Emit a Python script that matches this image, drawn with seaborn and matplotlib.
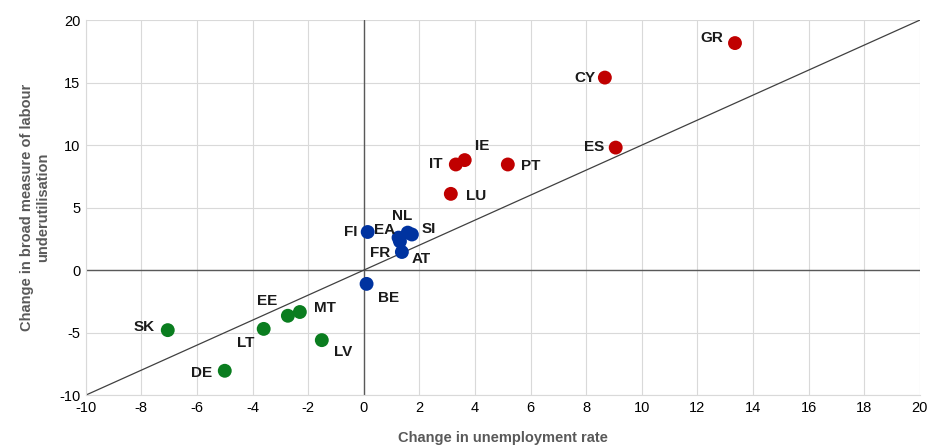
import matplotlib.pyplot as plt
import seaborn as sns
import pandas as pd

sns.set_style("white")
plt.rcParams["font.family"] = ["Liberation Sans", "DejaVu Sans"]
plt.rcParams["axes.unicode_minus"] = False

countries = ["GR", "CY", "ES", "IE", "IT", "PT", "LU",
             "FI", "NL", "SI", "EA", "FR", "AT", "BE",
             "SK", "DE", "LT", "EE", "MT", "LV"]
unemp = [13.35, 8.67, 9.06, 3.63, 3.31, 5.18, 3.13,
         0.14, 1.58, 1.73, 1.25, 1.3, 1.37, 0.1,
         -7.05, -5.0, -3.6, -2.73, -2.3, -1.51]
underutil = [18.16, 15.4, 9.8, 8.8, 8.45, 8.45, 6.1,
             3.05, 3.0, 2.85, 2.6, 2.3, 1.45, -1.1,
             -4.8, -8.05, -4.7, -3.65, -3.35, -5.6]
group = ["high"] * 7 + ["mid"] * 7 + ["low"] * 6

palette = {"high": "#c00000", "mid": "#0033a0", "low": "#0a7d1f"}

# label offsets in pixels (dx, dy)
offsets = {"GR": (-23, 5), "CY": (-20, 0), "ES": (-22, 1), "IE": (17, 14),
           "IT": (-20, 0), "PT": (23, -2), "LU": (25, -2), "FI": (-17, 0),
           "EA": (-14, 8), "NL": (-6, 17), "SI": (17, 5), "FR": (-20, -12),
           "AT": (19, -7), "BE": (22, -14), "SK": (-24, 3), "DE": (-23, -2),
           "LT": (-18, -14), "EE": (-21, 15), "MT": (25, 4), "LV": (21, -12)}

df = pd.DataFrame({"country": countries, "unemp": unemp,
                   "underutil": underutil, "group": group})

fig = plt.figure(figsize=(9.32, 4.46), dpi=100)
ax = fig.add_axes([0.092, 0.114, 0.895, 0.841])

ax.set_xlim(-10, 20)
ax.set_ylim(-10, 20)
ax.set_xticks(range(-10, 21, 2))
ax.set_yticks(range(-10, 21, 5))
ax.grid(True, color="#d9d9d9", linewidth=0.8)
ax.set_axisbelow(True)

ax.axhline(0, color="#595959", linewidth=1, zorder=1)
ax.axvline(0, color="#595959", linewidth=1, zorder=1)
ax.plot([-10, 20], [-10, 20], color="#404040", linewidth=0.9, zorder=1)

sns.scatterplot(data=df, x="unemp", y="underutil", hue="group",
                palette=palette, s=100, edgecolor="none", legend=False,
                ax=ax, zorder=3)

for c, x, y in zip(countries, unemp, underutil):
    dx, dy = offsets[c]
    ax.annotate(c, (x, y), xytext=(dx, dy), textcoords="offset pixels",
                ha="center", va="center", fontsize=11, fontweight="bold",
                color="#1a1a1a")

for s in ["top", "right"]:
    ax.spines[s].set_visible(False)
for s in ["left", "bottom"]:
    ax.spines[s].set_color("#d9d9d9")

ax.tick_params(labelsize=10.5, colors="black", length=0, pad=4)
ax.set_xlabel("Change in unemployment rate", fontsize=10.5,
              fontweight="bold", color="#595959", labelpad=12)
ax.set_ylabel("Change in broad measure of labour\nunderutilisation",
              fontsize=10.5, fontweight="bold", color="#595959", labelpad=6)

fig.savefig("out.png", dpi=100)
